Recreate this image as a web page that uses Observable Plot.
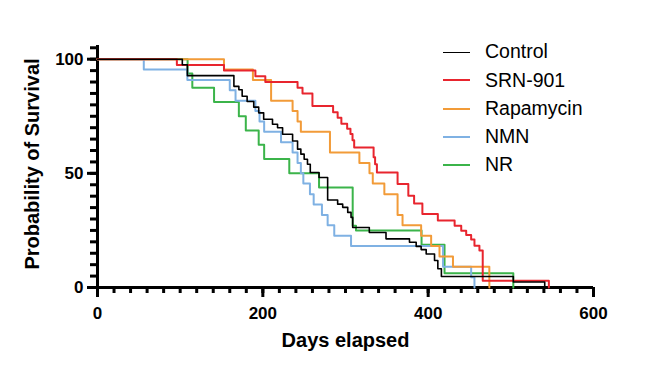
<!DOCTYPE html>
<html><head><meta charset="utf-8">
<script src="https://cdn.jsdelivr.net/npm/d3@7"></script>
<script src="https://cdn.jsdelivr.net/npm/@observablehq/plot@0.6"></script>
<style>
html,body{margin:0;padding:0;background:#fff;}
#chart{position:relative;width:650px;height:374px;font-family:"Liberation Sans",Arial,sans-serif;}
#legend{position:absolute;left:443px;top:38px;}
.row{display:flex;align-items:center;height:28.25px;}
.sw{width:27px;height:0;border-top:2px solid;margin-right:15px;}
.lab{font-size:19.5px;color:#000;white-space:nowrap;line-height:1;}
</style></head><body><div id="chart"><div id="legend"></div></div>
<script>
// Kaplan-Meier steps: days elapsed and survival (%)
const controlDays = [0, 102.6, 108.7, 165, 171, 175, 181, 189, 195, 201, 211.7, 217.8, 223.9, 236, 242, 246, 250, 254, 257.4, 268, 278.4, 290.5, 296.6, 302.7, 306.7, 308.7, 328.8, 349, 377.4, 385.5, 391.5, 397.6, 407.7, 411.7, 416, 503, 541];
const controlSurv = [100, 97.6, 92.8, 88.1, 86.6, 83.8, 81.5, 79, 76.5, 73.7, 71.5, 70, 67.1, 64.2, 60.6, 58.4, 56.2, 54, 50.4, 48.2, 38.3, 36.5, 35.1, 32.9, 30.7, 26.3, 24.1, 21.3, 19.8, 18, 16.6, 14.7, 11.8, 8.2, 4.8, 2.4, 0];

const srnDays = [0, 96, 153, 191, 203, 242, 248, 260, 285, 290.5, 295, 302, 306, 308.5, 310.5, 334, 335.8, 338, 363, 376, 383, 393, 411.7, 432, 440, 446, 452, 456, 462, 466, 546];
const srnSurv = [100, 97.5, 95, 92.5, 90, 87.5, 85, 79.5, 76.8, 74.4, 71.7, 69.5, 67.2, 64.5, 61.3, 57, 54, 50.4, 45.3, 40.2, 36.8, 32.2, 29.3, 27.1, 24.9, 23, 21, 18.3, 16.2, 3, 0];

const rapaDays = [0, 153, 188, 210, 236, 242, 246, 281.2, 316.8, 329, 333, 347, 363, 369, 391.5, 403.6, 413.7, 430, 474];
const rapaSurv = [100, 95.45, 90.9, 81.8, 77.3, 72.7, 68.2, 59.1, 54.5, 50, 45.5, 40.9, 31.8, 27.3, 22.7, 18.2, 13.6, 9.1, 0];

const nmnDays = [0, 56, 108.7, 160, 167, 191, 196, 201.6, 222, 236, 242, 246, 249, 257, 261.5, 271.5, 278.4, 286.4, 306.7, 418, 452, 456];
const nmnSurv = [100, 95.45, 90.9, 86.4, 81.8, 77.3, 72.7, 68.2, 63.6, 59.1, 54.5, 50, 45.5, 40.9, 36.4, 31.8, 27.3, 22.7, 18.2, 9.1, 4.5, 0];

const nrDays = [0, 109, 114.7, 141, 171, 179.4, 195, 201.6, 232, 268, 308.7, 312.7, 392, 419.8, 503];
const nrSurv = [100, 93.75, 87.5, 81.25, 75, 68.75, 62.5, 56.25, 50, 43.75, 27, 25, 18.75, 6.25, 0];

const seriesNames = ["Control", "SRN-901", "Rapamycin", "NMN", "NR"];
const seriesColors = ["#000000", "#e8252e", "#f29b38", "#7fb1e3", "#3bb44a"];
const xMajorTicks = [0, 200, 400, 600];
const yMajorTicks = [0, 50, 100];

const seriesData = [
  [controlDays, controlSurv], [srnDays, srnSurv], [rapaDays, rapaSurv], [nmnDays, nmnSurv], [nrDays, nrSurv]
];
const lineMarks = [];
// draw order: NR, NMN, Rapamycin, SRN-901, Control (on top)
for (const i of [4, 3, 2, 1, 0]) {
  const [days, surv] = seriesData[i];
  const rows = days.map((d, j) => ({day: d, surv: surv[j]}));
  lineMarks.push(Plot.line(rows, {x: "day", y: "surv", curve: "step-after", stroke: seriesColors[i], strokeWidth: i === 0 ? 1.6 : 2}));
}

const plot = Plot.plot({
  width: 650, height: 374,
  marginLeft: 97, marginRight: 57, marginTop: 45, marginBottom: 87,
  x: {domain: [0, 600]},
  y: {domain: [0, 106]},
  style: {fontFamily: "'Liberation Sans', Arial, sans-serif", background: "white", color: "black"},
  marks: [
    Plot.axisX({ticks: d3.range(0, 601, 20), tickSize: 6, tickFormat: () => "", strokeWidth: 3, label: null}),
    Plot.axisX({ticks: xMajorTicks, tickSize: 10, tickPadding: 9, strokeWidth: 3, fontSize: 17, fontWeight: "bold", label: null}),
    Plot.axisY({ticks: d3.range(0, 106, 5), tickSize: 7, tickFormat: () => "", strokeWidth: 3, label: null}),
    Plot.axisY({ticks: yMajorTicks, tickSize: 10, tickPadding: 4, strokeWidth: 3, fontSize: 17, fontWeight: "bold", label: null}),
    Plot.ruleX([0], {strokeWidth: 3}),
    Plot.ruleY([0], {strokeWidth: 3}),
    ...lineMarks,
    Plot.text(["Days elapsed"], {text: d => d, frameAnchor: "bottom", dy: 59, fontSize: 20, fontWeight: "bold"}),
    Plot.text(["Probability of Survival"], {text: d => d, frameAnchor: "left", textAnchor: "middle", dx: -65, dy: -2.5, rotate: -90, fontSize: 20, fontWeight: "bold"})
  ]
});
const chart = document.getElementById("chart");
chart.insertBefore(plot, chart.firstChild);

const legend = document.getElementById("legend");
seriesNames.forEach((name, i) => {
  const row = document.createElement("div");
  row.className = "row";
  const sw = document.createElement("div");
  sw.className = "sw";
  sw.style.borderTopColor = seriesColors[i];
  if (i === 0) sw.style.borderTopWidth = "1.6px";
  const lab = document.createElement("span");
  lab.className = "lab";
  lab.textContent = name;
  row.appendChild(sw); row.appendChild(lab);
  legend.appendChild(row);
});
</script>
</body></html>
